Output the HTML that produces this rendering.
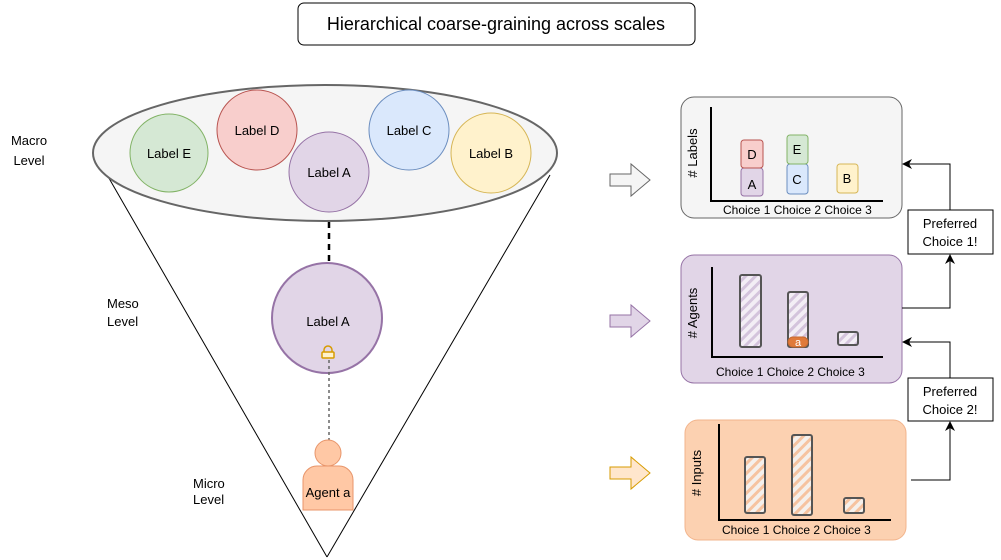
<!DOCTYPE html>
<html><head><meta charset="utf-8"><style>
html,body{margin:0;padding:0;background:#fff;}
svg{display:block;font-family:"Liberation Sans",Arial,sans-serif;}
</style></head><body>
<svg width="1001" height="560" viewBox="0 0 1001 560" xmlns="http://www.w3.org/2000/svg">
<defs>
<pattern id="hp" width="7" height="7" patternUnits="userSpaceOnUse" patternTransform="rotate(45)">
<rect width="7" height="7" fill="#f3eef5"/><rect width="3" height="7" fill="#d4c4dc"/></pattern>
<pattern id="ho" width="7" height="7" patternUnits="userSpaceOnUse" patternTransform="rotate(45)">
<rect width="7" height="7" fill="#f5f0ec"/><rect width="3" height="7" fill="#f6c3a0"/></pattern>
<marker id="ar" markerWidth="10" markerHeight="10" refX="9" refY="5" orient="auto" markerUnits="userSpaceOnUse">
<path d="M0,0 L10,5 L0,10 L3,5 Z" fill="#000"/></marker>
</defs>
<rect x="298" y="3" width="397" height="42" rx="6" fill="#fff" stroke="#000"/>
<text x="496" y="30" font-size="18" text-anchor="middle">Hierarchical coarse-graining across scales</text>

<line x1="106" y1="173" x2="327" y2="557" stroke="#000"/>
<line x1="550" y1="175" x2="327" y2="557" stroke="#000"/>
<ellipse cx="325" cy="153" rx="232" ry="68" fill="#f5f5f5" stroke="#666" stroke-width="2"/>
<circle cx="169" cy="153" r="39" fill="#d5e8d4" stroke="#82b366"/>
<text x="169" y="158" font-size="13" text-anchor="middle">Label E</text>
<circle cx="257" cy="130" r="40" fill="#f8cecc" stroke="#b85450"/>
<text x="257" y="135" font-size="13" text-anchor="middle">Label D</text>
<circle cx="329" cy="172" r="40" fill="#e1d5e7" stroke="#9673a6"/>
<text x="329" y="177" font-size="13" text-anchor="middle">Label A</text>
<circle cx="409" cy="130" r="40" fill="#dae8fc" stroke="#6c8ebf"/>
<text x="409" y="135" font-size="13" text-anchor="middle">Label C</text>
<circle cx="491" cy="153" r="40" fill="#fff2cc" stroke="#d6b656"/>
<text x="491" y="158" font-size="13" text-anchor="middle">Label B</text>

<text font-size="13" text-anchor="middle"><tspan x="29" y="145">Macro</tspan><tspan x="29" y="165">Level</tspan></text>
<text font-size="13"><tspan x="107" y="308">Meso</tspan><tspan x="107" y="326">Level</tspan></text>
<text font-size="13"><tspan x="193" y="488">Micro</tspan><tspan x="193" y="504">Level</tspan></text>

<line x1="329" y1="222" x2="329" y2="261" stroke="#000" stroke-width="2.5" stroke-dasharray="6,5"/>
<circle cx="327" cy="318" r="55" fill="#e1d5e7" stroke="#9673a6" stroke-width="2"/>
<text x="328" y="326" font-size="13" text-anchor="middle">Label A</text>
<line x1="329" y1="360" x2="329" y2="442" stroke="#666" stroke-width="1.5" stroke-dasharray="3,3"/>
<path d="M324,353 v-3 a4,4 0 0 1 8,0 v3" fill="none" stroke="#d79b00" stroke-width="1.5"/>
<rect x="322" y="352" width="12" height="6" rx="1" fill="#fff2cc" stroke="#d79b00" stroke-width="1.5"/>

<circle cx="328" cy="453" r="13" fill="#ffc8a5" stroke="#e8956a"/>
<path d="M303,510 v-30 a14,14 0 0 1 14,-14 h22 a14,14 0 0 1 14,14 v30 z" fill="#ffc8a5" stroke="#e8956a"/>
<text x="328" y="497" font-size="13" text-anchor="middle">Agent a</text>

<path d="M610,174 h21 v-10 l19,16 l-19,16 v-10 h-21 z" fill="#f5f5f5" stroke="#666"/>
<path d="M610,315 h21 v-10 l19,16 l-19,16 v-10 h-21 z" fill="#e1d5e7" stroke="#9673a6"/>
<path d="M610,467 h21 v-10 l19,16 l-19,16 v-10 h-21 z" fill="#ffe6cc" stroke="#d79b00"/>

<rect x="681" y="97" width="221" height="121" rx="13" fill="#f5f5f5" stroke="#666"/>
<path d="M711,107 V201 H883" fill="none" stroke="#000" stroke-width="2"/>
<text transform="translate(697,153) rotate(-90)" font-size="13" text-anchor="middle">&#35; Labels</text>
<rect x="741" y="168" width="22" height="28" rx="3" fill="#e1d5e7" stroke="#9673a6"/>
<rect x="741" y="140" width="22" height="28" rx="3" fill="#f8cecc" stroke="#b85450"/>
<text x="752" y="189" font-size="13" text-anchor="middle">A</text>
<text x="752" y="159" font-size="13" text-anchor="middle">D</text>
<rect x="787" y="164" width="21" height="30" rx="3" fill="#dae8fc" stroke="#6c8ebf"/>
<rect x="787" y="135" width="21" height="29" rx="3" fill="#d5e8d4" stroke="#82b366"/>
<text x="797" y="184" font-size="13" text-anchor="middle">C</text>
<text x="797" y="154" font-size="13" text-anchor="middle">E</text>
<rect x="837" y="164" width="21" height="29" rx="3" fill="#fff2cc" stroke="#d6b656"/>
<text x="847" y="183" font-size="13" text-anchor="middle">B</text>
<text x="723" y="214" font-size="12">Choice 1 Choice 2 Choice 3</text>

<rect x="681" y="255" width="221" height="128" rx="13" fill="#e1d5e7" stroke="#9673a6"/>
<path d="M712,267 V357 H883" fill="none" stroke="#000" stroke-width="2"/>
<text transform="translate(697,313) rotate(-90)" font-size="13" text-anchor="middle">&#35; Agents</text>
<rect x="740" y="275" width="21" height="72" rx="2" fill="url(#hp)" stroke="#555" stroke-width="2"/>
<rect x="788" y="292" width="20" height="55" rx="2" fill="url(#hp)" stroke="#555" stroke-width="2"/>
<rect x="788" y="337" width="20" height="10" rx="5" fill="#e07a3a" stroke="#c86a30"/>
<text x="798" y="346" font-size="11" fill="#fff" text-anchor="middle">a</text>
<rect x="838" y="332" width="20" height="13" rx="2" fill="url(#hp)" stroke="#555" stroke-width="2"/>
<text x="716" y="376" font-size="12">Choice 1 Choice 2 Choice 3</text>

<rect x="685" y="420" width="221" height="120" rx="13" fill="#fcd1b1" stroke="#f2b48c"/>
<path d="M719,424 V520 H891" fill="none" stroke="#000" stroke-width="2"/>
<text transform="translate(701,473) rotate(-90)" font-size="13" text-anchor="middle">&#35; Inputs</text>
<rect x="745" y="457" width="20" height="56" rx="2" fill="url(#ho)" stroke="#555" stroke-width="2"/>
<rect x="792" y="435" width="20" height="80" rx="2" fill="url(#ho)" stroke="#555" stroke-width="2"/>
<rect x="844" y="498" width="20" height="15" rx="2" fill="url(#ho)" stroke="#555" stroke-width="2"/>
<text x="722" y="534" font-size="12">Choice 1 Choice 2 Choice 3</text>

<rect x="908" y="210" width="85" height="44" fill="#fff" stroke="#000"/>
<text font-size="13" text-anchor="middle"><tspan x="950" y="228">Preferred</tspan><tspan x="950" y="246">Choice 1!</tspan></text>
<rect x="908" y="378" width="85" height="43" fill="#fff" stroke="#000"/>
<text font-size="13" text-anchor="middle"><tspan x="950" y="396">Preferred</tspan><tspan x="950" y="414">Choice 2!</tspan></text>

<path d="M902,308 H950 V255" fill="none" stroke="#000" marker-end="url(#ar)"/>
<path d="M950,210 V164 H903" fill="none" stroke="#000" marker-end="url(#ar)"/>
<path d="M911,480 H950 V422" fill="none" stroke="#000" marker-end="url(#ar)"/>
<path d="M950,378 V342 H903" fill="none" stroke="#000" marker-end="url(#ar)"/>
</svg>
</body></html>
